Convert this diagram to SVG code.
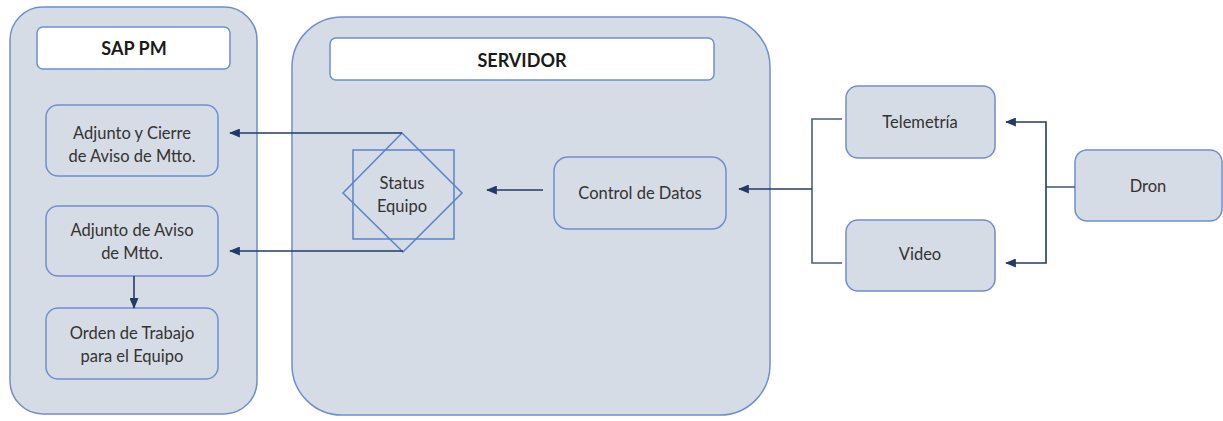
<svg xmlns="http://www.w3.org/2000/svg" width="1223" height="421" viewBox="0 0 1223 421">
<style>
.cont{fill:#d6dce5;stroke:#6f8fcf;stroke-width:1.5}
.title{fill:#ffffff;stroke:#6f8fcf;stroke-width:1.5}
.box{fill:#d6dce5;stroke:#6f8fcf;stroke-width:1.5}
.shape{fill:none;stroke:#5b82c9;stroke-width:1.5}
.t{font-family:Lato,"Liberation Sans",sans-serif;font-size:16.5px;fill:#333333;text-anchor:middle;dominant-baseline:central}
.b{font-weight:bold;fill:#1a1a1a;font-size:18px}
.ln{fill:none;stroke:#223b66;stroke-width:1.6}
.ln2{fill:none;stroke:#4a5f80;stroke-width:1.6}
</style>
<defs>
<marker id="ah" viewBox="0 0 12 10" refX="11" refY="5" markerWidth="12" markerHeight="9" markerUnits="userSpaceOnUse" orient="auto">
<path d="M0,0 L12,5 L0,10 z" fill="#223b66"/>
</marker>
</defs>
<rect width="1223" height="421" fill="#ffffff"/>
<g id="sap-pm">
<rect class="cont" x="10" y="7" width="247" height="407" rx="33"/>
<rect class="title" x="37" y="27" width="193" height="42" rx="6"/>
<text class="t b" x="134" y="48">SAP PM</text>
</g>
<g id="adjunto-cierre">
<rect class="box" x="46" y="105" width="172" height="71" rx="12"/>
<text class="t" x="132" y="133">Adjunto y Cierre</text>
<text class="t" x="132" y="156">de Aviso de Mtto.</text>
</g>
<g id="adjunto-aviso">
<rect class="box" x="46" y="206" width="172" height="70" rx="12"/>
<text class="t" x="132" y="230">Adjunto de Aviso</text>
<text class="t" x="132" y="253">de Mtto.</text>
</g>
<g id="orden-trabajo">
<rect class="box" x="46" y="308" width="172" height="71" rx="12"/>
<text class="t" x="132" y="333">Orden de Trabajo</text>
<text class="t" x="132" y="356">para el Equipo</text>
</g>
<g id="servidor">
<rect class="cont" x="292" y="17" width="478" height="398" rx="50"/>
<rect class="title" x="330" y="38" width="384" height="42" rx="6"/>
<text class="t b" x="522" y="60">SERVIDOR</text>
</g>
<g id="status-equipo">
<rect class="shape" x="353" y="150" width="101" height="89"/>
<polygon class="shape" points="402,133 462,193 403,252 343,193"/>
<text class="t" x="402" y="183">Status</text>
<text class="t" x="402" y="206">Equipo</text>
</g>
<g id="control-datos">
<rect class="box" x="554" y="157" width="172" height="72" rx="14"/>
<text class="t" x="640" y="193">Control de Datos</text>
</g>
<g id="telemetria">
<rect class="box" x="846" y="86" width="149" height="72" rx="12"/>
<text class="t" x="920" y="122">Telemetría</text>
</g>
<g id="video">
<rect class="box" x="846" y="220" width="149" height="71" rx="12"/>
<text class="t" x="920" y="254">Video</text>
</g>
<g id="dron">
<rect class="box" x="1075" y="150" width="147" height="71" rx="12"/>
<text class="t" x="1148" y="186">Dron</text>
</g>
<g id="connectors">
<path class="ln" d="M402,133 H230" marker-end="url(#ah)"/>
<path class="ln" d="M403,251 H230" marker-end="url(#ah)"/>
<path class="ln" d="M134,276 V308" marker-end="url(#ah)"/>
<path class="ln" d="M543,190 H487" marker-end="url(#ah)"/>
<path class="ln2" d="M842,119 H812 V263 H842"/>
<path class="ln" d="M812,189 H739" marker-end="url(#ah)"/>
<path class="ln2" d="M1075,187 H1046"/>
<path class="ln" d="M1046,187 V122 H1006" marker-end="url(#ah)"/>
<path class="ln" d="M1046,187 V263 H1006" marker-end="url(#ah)"/>
</g>
</svg>
